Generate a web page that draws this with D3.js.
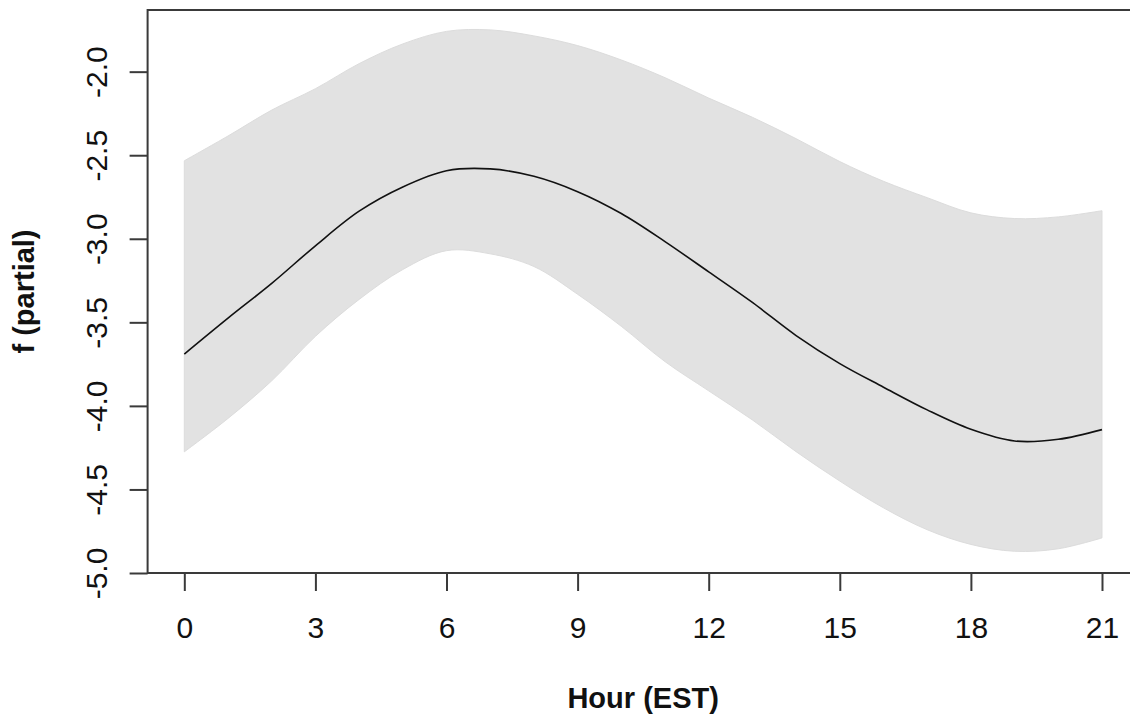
<!DOCTYPE html>
<html>
<head>
<meta charset="utf-8">
<script src="https://cdn.jsdelivr.net/npm/d3@7"></script>
<style>
  html, body { margin: 0; padding: 0; background: #fff; }
  svg { display: block; }
</style>
</head>
<body>
<svg id="chart" width="1130" height="717"></svg>
<script>
const hours = [0,1,2,3,4,5,6,7,8,9,10,11,12,13,14,15,16,17,18,19,20,21];
const fit   = [-3.69,-3.475,-3.267,-3.042,-2.835,-2.69,-2.593,-2.582,-2.626,-2.718,-2.849,-3.017,-3.198,-3.381,-3.579,-3.747,-3.888,-4.024,-4.14,-4.21,-4.20,-4.142];
const upper = [-2.533,-2.385,-2.23,-2.102,-1.952,-1.834,-1.759,-1.75,-1.786,-1.844,-1.93,-2.036,-2.158,-2.273,-2.401,-2.538,-2.656,-2.754,-2.845,-2.879,-2.869,-2.832];
const lower = [-4.275,-4.075,-3.85,-3.584,-3.363,-3.184,-3.071,-3.09,-3.166,-3.332,-3.524,-3.735,-3.91,-4.084,-4.274,-4.45,-4.61,-4.741,-4.829,-4.87,-4.855,-4.79];
const xTicks = [0,3,6,9,12,15,18,21];
const yTicks = [-5.0,-4.5,-4.0,-3.5,-3.0,-2.5,-2.0];
const xTitle = "Hour (EST)";
const yTitle = "f (partial)";

(function () {
const svg = d3.select("#chart");
const mLeft = 147.6, mRight = 1138.7, mTop = 10, mBottom = 573;

const x = d3.scaleLinear().domain([-0.84, 21.84]).range([mLeft, mRight]);
const y = d3.scaleLinear().domain([-5.0, -1.631]).range([mBottom, mTop]);

const data = hours.map((h, i) => ({h, f: fit[i], lo: lower[i], hi: upper[i]}));
const curve = d3.curveCatmullRom.alpha(0.5);

svg.append("path")
  .datum(data)
  .attr("fill", "#e2e2e2")
  .attr("stroke", "#dcdcdc")
  .attr("stroke-width", 1)
  .attr("d", d3.area().x(d => x(d.h)).y0(d => y(d.lo)).y1(d => y(d.hi)).curve(curve));

svg.append("path")
  .datum(data)
  .attr("fill", "none")
  .attr("stroke", "#111")
  .attr("stroke-width", 1.6)
  .attr("d", d3.line().x(d => x(d.h)).y(d => y(d.f)).curve(curve));

svg.append("rect")
  .attr("x", mLeft).attr("y", mTop)
  .attr("width", mRight - mLeft).attr("height", mBottom - mTop)
  .attr("fill", "none").attr("stroke", "#3a3a3a").attr("stroke-width", 2);

const fontFam = "Liberation Sans, Arial, Helvetica, sans-serif";

const gx = svg.append("g").attr("transform", `translate(0,${mBottom})`)
  .call(d3.axisBottom(x).tickValues(xTicks).tickSize(18).tickSizeOuter(0).tickFormat(d3.format("d")));
gx.select(".domain").remove();
gx.selectAll(".tick line").attr("stroke", "#3a3a3a").attr("stroke-width", 2);
gx.selectAll(".tick text")
  .attr("y", 65).attr("dy", 0)
  .attr("fill", "#111")
  .style("font-family", fontFam).style("font-size", "30px");

const gy = svg.append("g").attr("transform", `translate(${mLeft},0)`)
  .call(d3.axisLeft(y).tickValues(yTicks).tickSize(18).tickSizeOuter(0));
gy.select(".domain").remove();
gy.selectAll(".tick line").attr("stroke", "#3a3a3a").attr("stroke-width", 2);
gy.selectAll(".tick text")
  .attr("x", 0).attr("y", 0).attr("dy", 0)
  .attr("text-anchor", "middle")
  .attr("transform", "translate(-41,0) rotate(-90)")
  .attr("fill", "#111")
  .style("font-family", fontFam).style("font-size", "30px")
  .text(d => d.toFixed(1));

svg.append("text")
  .attr("x", (mLeft + mRight) / 2).attr("y", 708)
  .attr("text-anchor", "middle")
  .style("font-family", fontFam).style("font-size", "29px").style("font-weight", "bold")
  .attr("fill", "#111")
  .text(xTitle);

svg.append("text")
  .attr("transform", `translate(34,${(mTop + mBottom) / 2}) rotate(-90)`)
  .attr("text-anchor", "middle")
  .style("font-family", fontFam).style("font-size", "29px").style("font-weight", "bold")
  .attr("fill", "#111")
  .text(yTitle);
})();
</script>
</body>
</html>
